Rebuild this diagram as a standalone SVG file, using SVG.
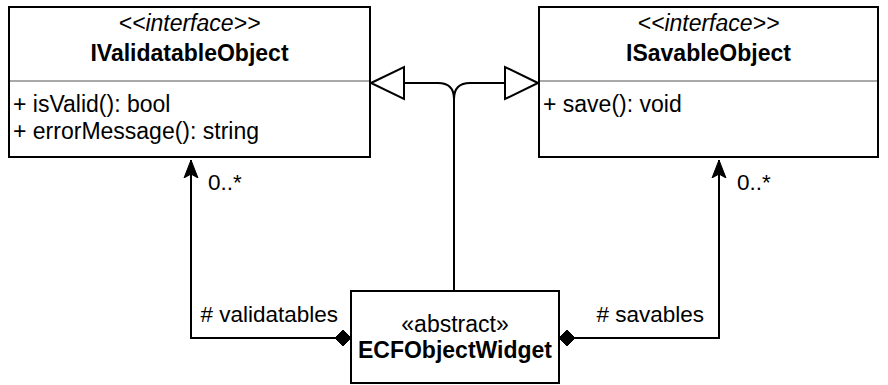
<svg xmlns="http://www.w3.org/2000/svg" width="888" height="385" viewBox="0 0 888 385">
  <style>
    text { font-family: "Liberation Sans", Arial, Helvetica, sans-serif; font-size: 23px; fill: #000; }
    .label { font-size: 22.5px; }
    .stereo { font-style: italic; }
    .title { font-weight: bold; }
    .mid { text-anchor: middle; }
    .box { fill: #fff; stroke: #000; stroke-width: 2; }
    .divider { stroke: #8c8c8c; stroke-width: 1.5; }
    .edge { fill: none; stroke: #000; stroke-width: 2; }
    .hollow { fill: #fff; stroke: #000; stroke-width: 2; stroke-linejoin: miter; }
  </style>
  <defs>
    <marker id="navArrow" viewBox="0 0 20 16" markerWidth="20" markerHeight="16" refX="18" refY="8" orient="auto" markerUnits="userSpaceOnUse">
      <path d="M18,8 L0,1 L4,8 L0,15 Z" fill="#000" stroke="#000" stroke-width="1"/>
    </marker>
  </defs>

  <!-- connectors -->
  <g id="connectors">
    <!-- realization of both interfaces, joined into one line from the widget -->
    <path class="edge" d="M404,83 H438 Q454,83 454,99 V291"/>
    <path class="edge" d="M505,83 H470 Q454,83 454,99"/>
    <polygon class="hollow" points="371,83 404,67 404,99"/>
    <polygon class="hollow" points="538,83 505,67 505,99"/>
    <!-- composition: validatables -->
    <path class="edge" d="M336,338 H191 V160" marker-end="url(#navArrow)"/>
    <polygon points="351,338 343,330 335,338 343,346" fill="#000" stroke="#000" stroke-width="1"/>
    <text class="label" x="208" y="190">0..*</text>
    <text class="label" x="338" y="322" text-anchor="end">#&#160;validatables</text>
    <!-- composition: savables -->
    <path class="edge" d="M574,338 H719 V160" marker-end="url(#navArrow)"/>
    <polygon points="559,338 567,330 575,338 567,346" fill="#000" stroke="#000" stroke-width="1"/>
    <text class="label" x="737" y="190">0..*</text>
    <text class="label" x="704" y="322" text-anchor="end">#&#160;savables</text>
  </g>

  <!-- IValidatableObject -->
  <g id="IValidatableObject">
    <rect class="box" x="9" y="7" width="361" height="150"/>
    <line class="divider" x1="10" y1="81" x2="369" y2="81"/>
    <text class="stereo mid" x="189.5" y="31">&lt;&lt;interface&gt;&gt;</text>
    <text class="title mid" x="189.5" y="61">IValidatableObject</text>
    <text x="13" y="112">+ isValid(): bool</text>
    <text x="13" y="139">+ errorMessage(): string</text>
  </g>

  <!-- ISavableObject -->
  <g id="ISavableObject">
    <rect class="box" x="539" y="7" width="339" height="150"/>
    <line class="divider" x1="540" y1="81" x2="877" y2="81"/>
    <text class="stereo mid" x="708.5" y="31">&lt;&lt;interface&gt;&gt;</text>
    <text class="title mid" x="708.5" y="61">ISavableObject</text>
    <text x="543" y="112">+ save(): void</text>
  </g>

  <!-- ECFObjectWidget -->
  <g id="ECFObjectWidget">
    <rect class="box" x="351" y="291" width="208" height="92"/>
    <text class="mid" x="455" y="332">«abstract»</text>
    <text class="title mid" x="455" y="358">ECFObjectWidget</text>
  </g>
</svg>
